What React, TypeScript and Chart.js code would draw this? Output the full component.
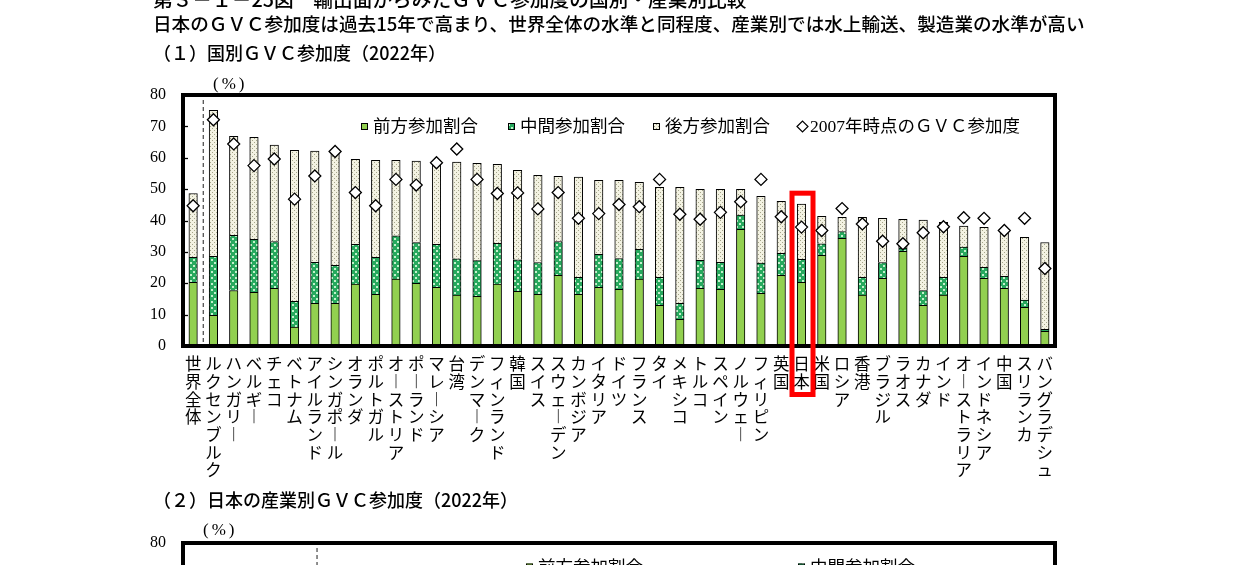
import React, { useEffect, useRef } from 'react';
import { Chart, registerables } from 'chart.js';

Chart.register(...registerables);

// ---------- data ----------
const categories = [
  '世界全体', 'ルクセンブルク', 'ハンガリー', 'ベルギー', 'チェコ', 'ベトナム', 'アイルランド', 'シンガポール', 'オランダ', 'ポルトガル',
  'オーストリア', 'ポーランド', 'マレーシア', '台湾', 'デンマーク', 'フィンランド', '韓国', 'スイス', 'スウェーデン', 'カンボジア',
  'イタリア', 'ドイツ', 'フランス', 'タイ', 'メキシコ', 'トルコ', 'スペイン', 'ノルウェー', 'フィリピン', '英国',
  '日本', '米国', 'ロシア', '香港', 'ブラジル', 'ラオス', 'カナダ', 'インド', 'オーストラリア', 'インドネシア',
  '中国', 'スリランカ', 'バングラデシュ',
];

const forwardShare = [
  20.3, 9.8, 17.7, 17.1, 18.4, 6.0, 13.6, 13.6, 19.7, 16.5,
  21.3, 20.0, 18.7, 16.2, 15.8, 19.7, 17.4, 16.5, 22.5, 16.5,
  18.7, 18.1, 21.3, 13.0, 8.5, 18.4, 18.1, 37.2, 16.8, 22.5,
  20.3, 28.9, 34.3, 16.2, 21.6, 30.2, 13.0, 16.2, 28.6, 21.6,
  18.4, 12.3, 4.7,
];
const middleShare = [
  8.0, 18.8, 17.6, 16.9, 14.9, 8.2, 13.1, 12.1, 12.7, 11.8,
  13.8, 13.0, 13.7, 11.6, 11.4, 13.0, 10.1, 10.1, 10.8, 5.4,
  10.5, 9.8, 9.5, 8.9, 5.1, 8.9, 8.6, 4.5, 9.6, 7.0,
  7.3, 3.7, 2.2, 5.7, 5.0, 1.0, 4.7, 5.7, 2.9, 3.5,
  3.8, 2.3, 0.6,
];
const backwardShare = [
  20.3, 46.5, 31.5, 32.5, 30.7, 48.2, 35.4, 35.9, 27.1, 30.9,
  24.1, 25.9, 26.4, 30.8, 31.0, 25.2, 28.5, 27.8, 20.8, 31.9,
  23.6, 24.9, 21.4, 28.7, 37.0, 22.6, 23.2, 8.2, 21.3, 16.6,
  17.6, 8.7, 4.5, 19.1, 14.1, 9.2, 22.4, 17.5, 6.7, 12.7,
  15.0, 20.0, 27.7,
];
const gvc2007 = [
  44.7, 72.1, 64.4, 57.5, 59.6, 46.8, 54.2, 62.0, 48.9, 44.7,
  53.1, 51.3, 58.4, 62.8, 53.1, 48.6, 48.8, 43.7, 48.9, 40.7,
  42.2, 45.1, 44.4, 53.1, 42.0, 40.4, 42.6, 46.0, 53.1, 41.2,
  37.9, 36.8, 43.8, 38.9, 33.4, 32.6, 36.1, 38.0, 40.9, 40.7,
  36.8, 40.7, 24.7,
];

const seriesLabels = ['前方参加割合', '中間参加割合', '後方参加割合', '2007年時点のＧＶＣ参加度'];
const yMin = 0;
const yMax = 80;
const yStep = 10;
const highlightCategory = '日本';

const titleText = '第３－１－25図　輸出面からみたＧＶＣ参加度の国別・産業別比較';
const subtitleText = '日本のＧＶＣ参加度は過去15年で高まり、世界全体の水準と同程度、産業別では水上輸送、製造業の水準が高い';
const panel1Title = '（１）国別ＧＶＣ参加度（2022年）';
const panel2Title = '（２）日本の産業別ＧＶＣ参加度（2022年）';
const unitText = '(%)';

// ---------- styling helpers ----------
const CJK = '"Noto Sans CJK JP", "Noto Sans CJK SC", sans-serif';
const SERIF = '"Liberation Serif", "Noto Sans CJK JP", serif';

function makePattern(ctx: CanvasRenderingContext2D, base: string, dot: string, size: number, dots: number[][], dotSize: number) {
  const c = document.createElement('canvas');
  c.width = size;
  c.height = size;
  const g = c.getContext('2d')!;
  g.fillStyle = base;
  g.fillRect(0, 0, size, size);
  g.fillStyle = dot;
  dots.forEach(([x, y]) => g.fillRect(x, y, dotSize, dotSize));
  return ctx.createPattern(c, 'repeat') as CanvasPattern;
}

const toVertical = (s: string) => Array.from(s).map((ch) => (ch === 'ー' ? '︱' : ch));

// ---------- plugins ----------
const framePlugin = {
  id: 'frame',
  afterDatasetsDraw(chart: any, _a: any, opts: any) {
    const { ctx, chartArea, scales } = chart;
    ctx.save();
    ctx.strokeStyle = '#000';
    ctx.lineWidth = 1.3;
    const y = scales.y;
    y.ticks.forEach((t: any) => {
      if (t.value <= y.min || t.value >= y.max) return;
      const py = Math.round(y.getPixelForValue(t.value)) + 0.5;
      ctx.beginPath();
      ctx.moveTo(chartArea.left, py);
      ctx.lineTo(chartArea.left + 5, py);
      ctx.stroke();
    });
    ctx.lineWidth = opts.lineWidth || 4;
    ctx.strokeRect(chartArea.left, chartArea.top, chartArea.right - chartArea.left, chartArea.bottom - chartArea.top);
    ctx.restore();
  },
};

const separatorPlugin = {
  id: 'separator',
  beforeDatasetsDraw(chart: any, _a: any, opts: any) {
    const { ctx, chartArea, scales } = chart;
    let x: number;
    if (typeof opts.afterIndex === 'number' && chart.data.labels.length > opts.afterIndex + 1) {
      x = (scales.x.getPixelForValue(opts.afterIndex) + scales.x.getPixelForValue(opts.afterIndex + 1)) / 2;
    } else if (typeof opts.fraction === 'number') {
      x = chartArea.left + (chartArea.right - chartArea.left) * opts.fraction;
    } else return;
    ctx.save();
    ctx.strokeStyle = '#444';
    ctx.lineWidth = 1.2;
    ctx.setLineDash([4, 3]);
    ctx.beginPath();
    ctx.moveTo(x, chartArea.top + 5);
    ctx.lineTo(x, chartArea.bottom);
    ctx.stroke();
    ctx.restore();
  },
};

const legendPlugin = {
  id: 'insideLegend',
  afterDraw(chart: any, _a: any, opts: any) {
    const { ctx, chartArea } = chart;
    const items = opts.items || [];
    ctx.save();
    ctx.font = opts.font;
    ctx.textBaseline = 'middle';
    items.forEach((it: any) => {
      const ds = chart.data.datasets[it.ds];
      const x = chartArea.left + it.x;
      const y = chartArea.top + it.y;
      let tx: number;
      if (ds.type === 'line') {
        const r = 5.5;
        ctx.beginPath();
        ctx.moveTo(x, y);
        ctx.lineTo(x + r, y - r);
        ctx.lineTo(x + 2 * r, y);
        ctx.lineTo(x + r, y + r);
        ctx.closePath();
        ctx.fillStyle = '#fff';
        ctx.fill();
        ctx.strokeStyle = '#000';
        ctx.lineWidth = 1.2;
        ctx.stroke();
        tx = x + 2 * r + 2;
      } else {
        const s = 7;
        ctx.fillStyle = ds.backgroundColor;
        ctx.fillRect(x, y - s / 2, s, s);
        ctx.strokeStyle = '#000';
        ctx.lineWidth = 1;
        ctx.strokeRect(x + 0.5, y - s / 2 + 0.5, s - 1, s - 1);
        tx = x + s + 5;
      }
      ctx.fillStyle = '#000';
      ctx.fillText(ds.label, tx, y + 1);
    });
    ctx.restore();
  },
};

const highlightPlugin = {
  id: 'highlight',
  afterDraw(chart: any, _a: any, opts: any) {
    if (!opts || !opts.label) return;
    const idx = chart.data.labels.indexOf(opts.label);
    if (idx < 0) return;
    const { ctx, chartArea, scales } = chart;
    let total = 0;
    chart.data.datasets.forEach((ds: any) => {
      if (ds.type !== 'line') total += ds.data[idx];
    });
    const cx = scales.x.getPixelForValue(idx) + 1;
    const top = scales.y.getPixelForValue(total) - opts.gapTop;
    const bottom = chartArea.bottom + opts.extendBelow;
    ctx.save();
    ctx.strokeStyle = opts.color;
    ctx.lineWidth = opts.lineWidth;
    ctx.strokeRect(cx - opts.halfWidth, top, opts.halfWidth * 2, bottom - top);
    ctx.restore();
  },
};

function barDatasets(ctx: CanvasRenderingContext2D, withData: boolean) {
  const midPattern = makePattern(ctx, '#27a95e', '#c4f2cc', 6, [[1, 1], [4, 4]], 2);
  const backPattern = makePattern(ctx, '#f3f2e2', '#a5a58a', 4, [[0, 0], [2, 2]], 1);
  const common = {
    type: 'bar' as const,
    borderColor: '#000',
    borderWidth: 1,
    barThickness: 8.5,
    stack: 'gvc',
    order: 1,
  };
  return [
    { ...common, label: seriesLabels[0], data: withData ? forwardShare : [], backgroundColor: '#92d050' },
    { ...common, label: seriesLabels[1], data: withData ? middleShare : [], backgroundColor: midPattern },
    { ...common, label: seriesLabels[2], data: withData ? backwardShare : [], backgroundColor: backPattern },
    {
      type: 'line' as const,
      label: seriesLabels[3],
      data: withData ? gvc2007 : [],
      showLine: false,
      pointStyle: 'rectRot',
      pointRadius: 6,
      pointHoverRadius: 6,
      pointBackgroundColor: '#fff',
      pointBorderColor: '#000',
      pointBorderWidth: 1.3,
      stack: 'p2007',
      order: 0,
    },
  ];
}

function yScale(width: number) {
  return {
    stacked: true,
    min: yMin,
    max: yMax,
    ticks: {
      stepSize: yStep,
      padding: 17,
      color: '#000',
      font: { family: SERIF, size: 16 },
    },
    grid: { display: false, drawTicks: false },
    border: { display: false },
    afterFit: (s: any) => {
      s.width = width;
    },
  };
}

export default function App() {
  const ref1 = useRef<HTMLCanvasElement>(null);
  const ref2 = useRef<HTMLCanvasElement>(null);

  useEffect(() => {
    const c1 = ref1.current!;
    const c2 = ref2.current!;
    const ctx1 = c1.getContext('2d')!;
    const ctx2 = c2.getContext('2d')!;

    const chart1 = new Chart(ctx1, {
      type: 'bar',
      data: { labels: categories, datasets: barDatasets(ctx1, true) as any },
      options: {
        animation: false,
        responsive: false,
        maintainAspectRatio: false,
        events: [],
        layout: { padding: { left: 0, top: 95, right: 186, bottom: 0 } },
        plugins: {
          legend: { display: false },
          tooltip: { enabled: false },
          frame: { lineWidth: 4 },
          separator: { afterIndex: 0 },
          insideLegend: {
            font: `17.5px ${SERIF}`,
            items: [
              { ds: 0, x: 178, y: 31.5 },
              { ds: 1, x: 325, y: 31.5 },
              { ds: 2, x: 470, y: 31.5 },
              { ds: 3, x: 614, y: 31.5 },
            ],
          },
          highlight: { label: highlightCategory, halfWidth: 10.5, gapTop: 11, extendBelow: 48.5, color: '#ff0000', lineWidth: 5 },
        } as any,
        scales: {
          x: {
            stacked: true,
            grid: { display: false, drawTicks: false },
            border: { display: false },
            ticks: {
              autoSkip: false,
              maxRotation: 0,
              minRotation: 0,
              padding: 9,
              color: '#000',
              font: { family: CJK, size: 16.5, lineHeight: 1.073 },
              callback: (_v: any, i: number) => toVertical(categories[i]),
            },
            afterFit: (s: any) => {
              s.height = 144;
            },
          } as any,
          y: yScale(183) as any,
        },
      },
      plugins: [separatorPlugin, framePlugin, legendPlugin, highlightPlugin],
    });

    const chart2 = new Chart(ctx2, {
      type: 'bar',
      data: { labels: [], datasets: barDatasets(ctx2, false) as any },
      options: {
        animation: false,
        responsive: false,
        maintainAspectRatio: false,
        events: [],
        layout: { padding: { left: 0, top: 33, right: 186, bottom: 0 } },
        plugins: {
          legend: { display: false },
          tooltip: { enabled: false },
          frame: { lineWidth: 4 },
          separator: { fraction: 0.1537 },
          insideLegend: {
            font: `17.5px ${SERIF}`,
            items: [
              { ds: 0, x: 343, y: 24 },
              { ds: 1, x: 615, y: 24 },
              { ds: 2, x: 343, y: 50 },
              { ds: 3, x: 615, y: 50 },
            ],
          },
        } as any,
        scales: {
          x: {
            stacked: true,
            grid: { display: false, drawTicks: false },
            border: { display: false },
            ticks: { display: false },
            afterFit: (s: any) => {
              s.height = 36;
            },
          } as any,
          y: yScale(183) as any,
        },
      },
      plugins: [separatorPlugin, framePlugin, legendPlugin],
    });

    return () => {
      chart1.destroy();
      chart2.destroy();
    };
  }, []);

  const textBase: React.CSSProperties = {
    position: 'absolute',
    left: 153,
    whiteSpace: 'nowrap',
    fontFamily: CJK,
    lineHeight: 1,
    color: '#000',
    fontWeight: 500,
  };
  const unitStyle: React.CSSProperties = {
    position: 'absolute',
    whiteSpace: 'nowrap',
    fontFamily: SERIF,
    fontSize: 17,
    lineHeight: 1,
    letterSpacing: 3,
    color: '#000',
  };

  return (
    <div style={{ position: 'absolute', left: 0, top: 0, width: 1241, height: 565, overflow: 'hidden', background: '#fff' }}>
      <canvas ref={ref1} width={1241} height={490} style={{ position: 'absolute', left: 0, top: 0, width: 1241, height: 490 }} />
      <canvas ref={ref2} width={1241} height={320} style={{ position: 'absolute', left: 0, top: 510, width: 1241, height: 320 }} />
      <div style={{ ...textBase, top: -11, fontSize: 19.7 }}>{titleText}</div>
      <div style={{ ...textBase, top: 14, fontSize: 18.6 }}>{subtitleText}</div>
      <div style={{ ...textBase, top: 43, fontSize: 18 }}>{panel1Title}</div>
      <div style={{ ...textBase, top: 490, fontSize: 18 }}>{panel2Title}</div>
      <div style={{ ...unitStyle, left: 213, top: 75 }}>{unitText}</div>
      <div style={{ ...unitStyle, left: 203, top: 521 }}>{unitText}</div>
    </div>
  );
}
